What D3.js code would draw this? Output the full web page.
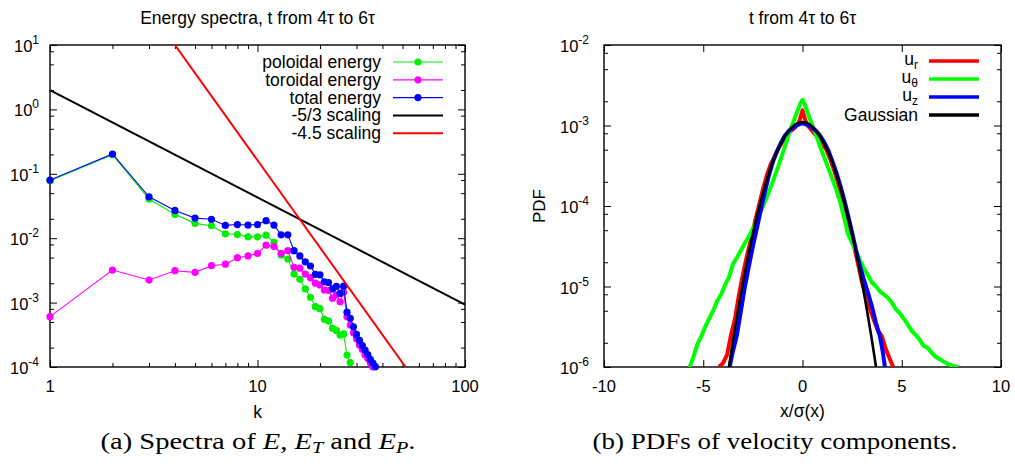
<!DOCTYPE html>
<html><head><meta charset="utf-8">
<script src="https://cdn.jsdelivr.net/npm/d3@7"></script>
<style>
body{margin:0;background:#fff;}
svg{display:block;background:#fff;}
text{font-family:"Liberation Sans",Arial,Helvetica,sans-serif;fill:#000;}
</style></head><body>
<svg id="c" width="1015" height="467"></svg>
<script>
// ---------------- DATA ----------------
// Left panel: energy spectra vs wavenumber k
const kPol = d3.range(1, 29);   // k = 1..28
const poloidal = [0.078,0.198,0.0406,0.0235,0.017,0.0156,0.0117,0.0114,0.0105,0.0105,0.0112,0.0086,0.0055,0.00475,0.00278,0.0023,0.00163,0.00121,0.000865,0.000805,0.00055,0.000517,0.0004,0.00037,0.000314,0.000326,0.000153,0.000117];
const kTor = d3.range(1, 37);   // k = 1..36
const toroidal = [0.000605,0.0032,0.00224,0.00313,0.00295,0.00374,0.00395,0.00498,0.0053,0.0058,0.0078,0.0074,0.0058,0.0064,0.00353,0.00343,0.00278,0.00244,0.0020,0.00188,0.00157,0.00154,0.00117,0.00131,0.00103,0.00145,0.000605,0.00045,0.00034,0.000275,0.00022,0.000187,0.000153,0.000135,0.000115,0.0001];
const kTot = d3.range(1, 38);   // k = 1..37
const total = [0.080,0.203,0.044,0.027,0.0205,0.0197,0.0158,0.0163,0.0160,0.0163,0.0187,0.0160,0.0113,0.0113,0.0064,0.0053,0.0043,0.0037,0.00275,0.0027,0.0021,0.00205,0.00163,0.00178,0.00139,0.0018,0.00071,0.00057,0.00042,0.00032,0.00026,0.000214,0.000183,0.000156,0.000131,0.000115,0.000101];
// reference scaling lines (end points)
const scaling53K = [1, 100];
const scaling53E = [2.0, 0.000928];
const scaling45K = [4.0, 51.7];
const scaling45E = [10, 0.0001];
const leftLegend = ["poloidal energy","toroidal energy","total energy","-5/3 scaling","-4.5 scaling"];
const leftXTicks = [1, 10, 100];
const leftYExp = [-4,-3,-2,-1,0,1];

// Right panel: PDFs of velocity components (x/sigma, log10 PDF)
const urX = [-4.2,-4.0,-3.8,-3.6,-3.4,-3.2,-3.0,-2.8,-2.6,-2.4,-2.2,-2.0,-1.8,-1.6,-1.4,-1.2,-1.0,-0.8,-0.6,-0.4,-0.2,-0.1,0,0.1,0.2,0.4,0.6,0.8,1.0,1.2,1.4,1.6,1.8,2.0,2.2,2.4,2.6,2.8,3.0,3.2,3.4,3.6,3.8,4.0,4.2,4.4,4.57];
const urLog10 = [-6.0,-5.95,-5.85,-5.6,-5.4,-5.1,-4.85,-4.62,-4.42,-4.2,-4.0,-3.8,-3.62,-3.48,-3.38,-3.28,-3.2,-3.12,-3.07,-3.03,-2.97,-2.9,-2.81,-2.9,-2.98,-3.04,-3.1,-3.15,-3.22,-3.3,-3.42,-3.56,-3.72,-3.9,-4.08,-4.28,-4.5,-4.72,-4.95,-5.12,-5.28,-5.42,-5.55,-5.62,-5.78,-5.9,-6.0];
const utX = [-5.68,-5.5,-5.3,-5.1,-4.9,-4.7,-4.5,-4.3,-4.1,-3.9,-3.7,-3.5,-3.3,-3.1,-2.9,-2.7,-2.5,-2.3,-2.1,-1.9,-1.7,-1.5,-1.3,-1.1,-0.9,-0.7,-0.5,-0.3,-0.1,0,0.1,0.3,0.5,0.7,0.9,1.1,1.3,1.5,1.7,1.9,2.1,2.3,2.5,2.7,2.9,3.1,3.3,3.5,3.7,3.9,4.1,4.3,4.5,4.7,4.9,5.1,5.3,5.5,5.7,5.9,6.1,6.3,6.5,6.7,6.9,7.1,7.3,7.5,7.85];
const utLog10 = [-6.0,-5.88,-5.72,-5.62,-5.5,-5.4,-5.3,-5.18,-5.1,-4.98,-4.88,-4.72,-4.64,-4.55,-4.46,-4.38,-4.28,-4.18,-4.06,-3.95,-3.83,-3.7,-3.56,-3.42,-3.27,-3.12,-2.98,-2.85,-2.72,-2.68,-2.73,-2.87,-3.0,-3.13,-3.27,-3.4,-3.53,-3.66,-3.8,-3.95,-4.15,-4.35,-4.46,-4.56,-4.68,-4.78,-4.86,-4.95,-5.0,-5.06,-5.1,-5.14,-5.2,-5.28,-5.33,-5.4,-5.47,-5.55,-5.6,-5.66,-5.74,-5.76,-5.82,-5.87,-5.9,-5.93,-5.96,-5.98,-6.0];
const uzX = [-3.67,-3.5,-3.3,-3.1,-2.9,-2.7,-2.5,-2.3,-2.1,-1.9,-1.7,-1.5,-1.3,-1.1,-0.9,-0.7,-0.5,-0.3,-0.1,0,0.1,0.3,0.5,0.7,0.9,1.1,1.3,1.5,1.7,1.9,2.1,2.3,2.5,2.7,2.9,3.1,3.3,3.5,3.7,3.9,4.05,4.15];
const uzLog10 = [-6.0,-5.8,-5.6,-5.3,-5.0,-4.75,-4.5,-4.28,-4.05,-3.83,-3.63,-3.46,-3.33,-3.22,-3.13,-3.07,-3.03,-3.0,-2.98,-2.97,-2.98,-3.0,-3.03,-3.07,-3.13,-3.21,-3.31,-3.44,-3.58,-3.74,-3.92,-4.12,-4.33,-4.55,-4.75,-4.92,-5.08,-5.25,-5.45,-5.62,-5.82,-6.0];
const gaussX = [-3.75,-3.5,-3.25,-3.0,-2.75,-2.5,-2.25,-2.0,-1.75,-1.5,-1.25,-1.0,-0.75,-0.5,-0.25,0,0.25,0.5,0.75,1.0,1.25,1.5,1.75,2.0,2.25,2.5,2.75,3.0,3.25,3.5,3.75];
const gaussPDF = [8.4e-7,2.13e-6,5.03e-6,1.12e-5,2.33e-5,4.54e-5,8.32e-5,1.43e-4,2.31e-4,3.49e-4,4.96e-4,6.60e-4,8.26e-4,9.68e-4,1.065e-3,1.10e-3,1.065e-3,9.68e-4,8.26e-4,6.60e-4,4.96e-4,3.49e-4,2.31e-4,1.43e-4,8.32e-5,4.54e-5,2.33e-5,1.12e-5,5.03e-6,2.13e-6,8.4e-7];
const rightXTicks = [-10,-5,0,5,10];
const rightYExp = [-6,-5,-4,-3,-2];

// ---------------- DRAWING ----------------
const svg = d3.select("#c");
const L = {x0:50, x1:465, y0:45, y1:367};
const R = {x0:604, x1:1001, y0:45, y1:367};

const xL = d3.scaleLog().domain([1,100]).range([L.x0,L.x1]);
const yL = d3.scaleLog().domain([1e-4,10]).range([L.y1,L.y0]);
const xR = d3.scaleLinear().domain([-10,10]).range([R.x0,R.x1]);
const yR = d3.scaleLog().domain([1e-6,1e-2]).range([R.y1,R.y0]);

const defs = svg.append("defs");
defs.append("clipPath").attr("id","clipL").append("rect").attr("x",L.x0).attr("y",L.y0).attr("width",L.x1-L.x0).attr("height",L.y1-L.y0);
defs.append("clipPath").attr("id","clipR").append("rect").attr("x",R.x0).attr("y",R.y0).attr("width",R.x1-R.x0).attr("height",R.y1-R.y0);

function minorLog(e0, e1, mults){ const o=[]; for(let e=e0;e<e1;e++) for(const m of mults) o.push(m*Math.pow(10,e)); return o; }

function ticks(box, xs, ys, xMaj, xMin, yMaj, yMin){
  const g = svg.append("g");
  const add = (axis, tr) => g.append("g").attr("transform", tr).call(axis).call(s=>s.select(".domain").remove()).call(s=>s.selectAll("line").attr("stroke","#000").attr("stroke-width",1));
  [[xMaj,7],[xMin,4]].forEach(([v,len])=>{
    if(!v.length) return;
    add(d3.axisBottom(xs).tickValues(v).tickSize(-len).tickFormat(""), `translate(0,${box.y1})`);
    add(d3.axisTop(xs).tickValues(v).tickSize(-len).tickFormat(""), `translate(0,${box.y0})`);
  });
  [[yMaj,7],[yMin,4]].forEach(([v,len])=>{
    if(!v.length) return;
    add(d3.axisLeft(ys).tickValues(v).tickSize(-len).tickFormat(""), `translate(${box.x0},0)`);
    add(d3.axisRight(ys).tickValues(v).tickSize(-len).tickFormat(""), `translate(${box.x1},0)`);
  });
  g.selectAll("text").remove();
  svg.append("rect").attr("x",box.x0).attr("y",box.y0).attr("width",box.x1-box.x0).attr("height",box.y1-box.y0)
    .attr("fill","none").attr("stroke","#000").attr("stroke-width",1.4);
}

function powLabel(x, y, exp){
  const t = svg.append("text").attr("x",x).attr("y",y).attr("text-anchor","end").attr("font-size",16.5);
  t.append("tspan").text("10");
  t.append("tspan").attr("dy",-8).attr("font-size",12).text(exp);
}

// ---- Left panel ----
const leftMinorX = minorLog(0,2,[2,3,4,5,6,7,8,9]);
const leftMinorY = minorLog(-4,1,[2,5,8]);
ticks(L, xL, yL, leftXTicks, leftMinorX, leftYExp.map(e=>Math.pow(10,e)), leftMinorY);
leftYExp.forEach(e=> powLabel(L.x0-11, yL(Math.pow(10,e))+7, String(e)));
leftXTicks.forEach(v=> svg.append("text").attr("x",xL(v)).attr("y",L.y1+25).attr("text-anchor","middle").attr("font-size",16.5).text(String(v)));
svg.append("text").attr("x",(L.x0+L.x1)/2).attr("y",24).attr("text-anchor","middle").attr("font-size",17.5).text("Energy spectra, t from 4τ to 6τ");
svg.append("text").attr("x",(L.x0+L.x1)/2).attr("y",418).attr("text-anchor","middle").attr("font-size",17.5).text("k");

const seriesL = [
  {k:kPol, v:poloidal, color:"#00ee00"},
  {k:kTor, v:toroidal, color:"#ff00ff"},
  {k:kTot, v:total, color:"#0000ff"}
];
const lineL = d3.line().x(d=>xL(d[0])).y(d=>yL(d[1]));
seriesL.forEach(s=>{
  const pts = s.k.map((k,i)=>[k, s.v[i]]);
  svg.append("path").attr("clip-path","url(#clipL)").attr("d",lineL(pts)).attr("fill","none").attr("stroke",s.color).attr("stroke-width",1.1);
  svg.append("g").selectAll("circle").data(pts.filter(p=>p[1]>=1e-4*0.9)).join("circle")
    .attr("cx",d=>xL(d[0])).attr("cy",d=>yL(d[1])).attr("r",3.6).attr("fill",s.color);
});
const g53 = scaling53K.map((k,i)=>[k, scaling53E[i]]);
const g45 = scaling45K.map((k,i)=>[k, scaling45E[i]]);
svg.append("path").attr("clip-path","url(#clipL)").attr("d",lineL(g53)).attr("fill","none").attr("stroke","#000").attr("stroke-width",2);
svg.append("path").attr("clip-path","url(#clipL)").attr("d",lineL(g45)).attr("fill","none").attr("stroke","#ff0000").attr("stroke-width",2);

// left legend
const legColorsL = ["#00ee00","#ff00ff","#0000ff","#000","#ff0000"];
leftLegend.forEach((lab,i)=>{
  const y = 62 + i*17.8;
  svg.append("text").attr("x",381).attr("y",y+6).attr("text-anchor","end").attr("font-size",17.5).text(lab);
  const isData = i<3;
  svg.append("line").attr("x1",393).attr("x2",443).attr("y1",y).attr("y2",y).attr("stroke",legColorsL[i]).attr("stroke-width",isData?1.2:2);
  if(isData) svg.append("circle").attr("cx",418).attr("cy",y).attr("r",3.6).attr("fill",legColorsL[i]);
});

// ---- Right panel ----
const rightMinorY = minorLog(-6,-2,[2,5,8]);
ticks(R, xR, yR, rightXTicks, [], rightYExp.map(e=>Math.pow(10,e)), rightMinorY);
rightYExp.forEach(e=> powLabel(R.x0-15, yR(Math.pow(10,e))+7, String(e)));
rightXTicks.forEach(v=> svg.append("text").attr("x",xR(v)).attr("y",R.y1+25).attr("text-anchor","middle").attr("font-size",16.5).text(String(v)));
svg.append("text").attr("x",(R.x0+R.x1)/2).attr("y",24).attr("text-anchor","middle").attr("font-size",17.5).text("t from 4τ to 6τ");
svg.append("text").attr("x",(R.x0+R.x1)/2).attr("y",417).attr("text-anchor","middle").attr("font-size",17.5).text("x/σ(x)");
svg.append("text").attr("transform","translate(545,206) rotate(-90)").attr("text-anchor","middle").attr("font-size",17).text("PDF");

const lineR = d3.line().x(d=>xR(d[0])).y(d=>yR(d[1]));
const seriesR = [
  {x:urX, v:urLog10.map(l=>Math.pow(10,l)), color:"#ff0000", w:4, curve:d3.curveLinear},
  {x:utX, v:utLog10.map(l=>Math.pow(10,l)), color:"#00ff00", w:4, curve:d3.curveLinear},
  {x:uzX, v:uzLog10.map(l=>Math.pow(10,l)), color:"#0000ff", w:4, curve:d3.curveLinear},
  {x:gaussX, v:gaussPDF, color:"#000000", w:2.6, curve:d3.curveCatmullRom}
];
seriesR.forEach(s=>{
  const pts = s.x.map((x,i)=>[x, s.v[i]]);
  svg.append("path").attr("clip-path","url(#clipR)").attr("d",lineR.curve(s.curve)(pts)).attr("fill","none")
    .attr("stroke",s.color).attr("stroke-width",s.w).attr("stroke-linejoin","round");
});

// right legend
const legR = [{t:"u",sub:"r",c:"#ff0000"},{t:"u",sub:"θ",c:"#00ff00"},{t:"u",sub:"z",c:"#0000ff"},{t:"Gaussian",sub:"",c:"#000"}];
legR.forEach((d,i)=>{
  const y = 61 + i*18;
  const t = svg.append("text").attr("x",918).attr("y",d.sub? y+4 : y+6).attr("text-anchor","end").attr("font-size",17.5);
  t.append("tspan").text(d.t);
  if(d.sub) t.append("tspan").attr("dy",4).attr("font-size",12).text(d.sub);
  svg.append("line").attr("x1",929).attr("x2",979).attr("y1",y).attr("y2",y).attr("stroke",d.c).attr("stroke-width",3.6);
});

// ---- captions ----
const capFont = "'Liberation Serif','DejaVu Serif',serif";
function caption(x, width, parts){
  const t = svg.append("text").attr("x",x).attr("y",449).attr("text-anchor","middle").attr("font-size",24)
    .attr("textLength",width).attr("lengthAdjust","spacingAndGlyphs").style("font-family",capFont);
  parts.forEach(p=>{
    const s = t.append("tspan").text(p.s);
    if(p.i) s.attr("font-style","italic");
    if(p.dy) s.attr("dy",p.dy);
    if(p.fs) s.attr("font-size",p.fs);
  });
}
caption(258, 315, [{s:"(a) Spectra of "},{s:"E",i:1},{s:", "},{s:"E",i:1},{s:"T",i:1,dy:4,fs:17},{s:" and ",dy:-4},{s:"E",i:1},{s:"P",i:1,dy:4,fs:17},{s:".",dy:-4}]);
caption(775, 365, [{s:"(b) PDFs of velocity components."}]);
</script>
</body></html>
